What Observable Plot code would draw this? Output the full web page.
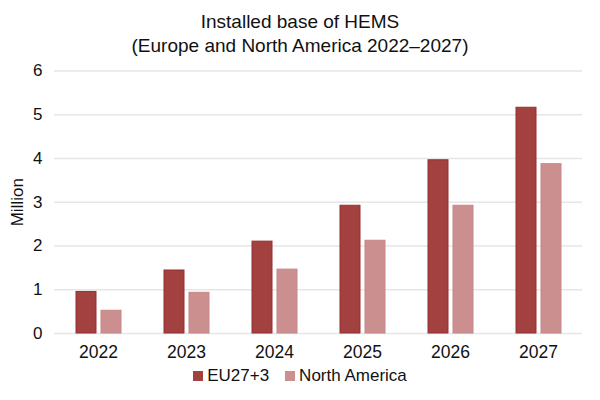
<!DOCTYPE html>
<html>
<head>
<meta charset="utf-8">
<script src="https://cdn.jsdelivr.net/npm/d3@7"></script>
<script src="https://cdn.jsdelivr.net/npm/@observablehq/plot@0.6"></script>
<style>
  body { margin: 0; background: #fff; font-family: "Liberation Sans", Arial, sans-serif; }
  #wrap { width: 600px; height: 400px; position: relative; }
  .title { text-align: center; font-size: 19px; line-height: 24px; padding-top: 10px; height: 48px; color: #111; }
  .legend { display: flex; justify-content: center; gap: 16px; font-size: 17px; color: #111; margin-top: 3px; }
  .legend span.sw { display: inline-block; width: 10px; height: 10px; margin-right: 4px; vertical-align: 0px; }
</style>
</head>
<body>
<div id="wrap">
  <div class="title">Installed base of HEMS<br>(Europe and North America 2022–2027)</div>
  <div id="chart"></div>
  <div class="legend" id="legend"></div>
</div>
<script>
const years = ["2022", "2023", "2024", "2025", "2026", "2027"];
const series = ["EU27+3", "North America"];
const eu = [0.95, 1.44, 2.10, 2.92, 3.96, 5.16];
const na = [0.52, 0.93, 1.46, 2.12, 2.92, 3.87];
const colors = ["#a34141", "#cc8f8f"];
const strokes = ["#962f2f", "#c78686"];
const yTicks = [0, 1, 2, 3, 4, 5, 6];

const data = [];
years.forEach((y, i) => {
  data.push({year: y, series: series[0], value: eu[i]});
  data.push({year: y, series: series[1], value: na[i]});
});

const chart = Plot.plot({
  width: 600,
  height: 305,
  marginTop: 12.5,
  marginBottom: 30,
  marginLeft: 54,
  marginRight: 18,
  style: {fontFamily: "Liberation Sans, Arial, sans-serif", fontSize: "17px", color: "#111"},
  fx: {domain: years, padding: 0, label: null},
  x: {domain: series, paddingInner: 0.2, paddingOuter: 0.86, axis: null},
  y: {domain: [0, 6]},
  color: {domain: series, range: colors},
  marks: [
    Plot.gridY(yTicks, {stroke: "#e6e6e6", strokeOpacity: 1, strokeWidth: 1.5, facetAnchor: null}),
    Plot.axisY(yTicks, {tickSize: 0, tickPadding: 12, label: "Million", labelAnchor: "center", labelArrow: "none", labelOffset: 44, tickFormat: d => String(d), fontSize: 17}),
    Plot.axisFx({anchor: "bottom", tickSize: 0, tickPadding: 12, label: null, fontSize: 17.5}),
    Plot.barY(data, {fx: "year", x: "series", y: "value", fill: "series", stroke: d => strokes[series.indexOf(d.series)], strokeWidth: 1})
  ]
});
document.getElementById("chart").appendChild(chart);

const legend = document.getElementById("legend");
series.forEach((s, i) => {
  const item = document.createElement("div");
  const sw = document.createElement("span");
  sw.className = "sw";
  sw.style.background = colors[i];
  item.appendChild(sw);
  item.appendChild(document.createTextNode(s));
  legend.appendChild(item);
});
</script>
</body>
</html>
